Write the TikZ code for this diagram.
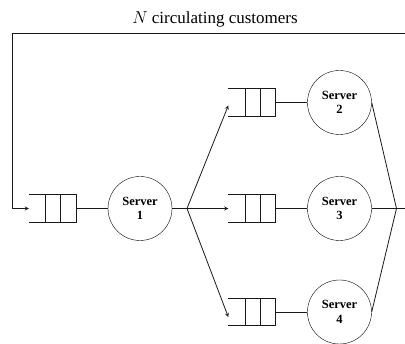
\documentclass[tikz,border=0pt]{standalone}
\usepackage{fontspec}
\setmainfont{Liberation Serif}
\usepackage{tikz}
\usetikzlibrary{arrows}
\tikzstyle{server} = [circle, minimum size=64pt, inner sep=0pt, align=center, draw=black, font=\fontsize{12.5}{14.5}\selectfont\bfseries]
\tikzstyle{queue} = [rectangle, minimum width=47pt, minimum height=27pt, inner sep=0pt]
\tikzstyle{line} = [line width=0.8pt, draw=black!90]
\tikzstyle{arrow} = [line, ->, >=stealth]

\begin{document}
\begin{tikzpicture}[node distance=87.5pt]
\useasboundingbox (0,0) rectangle (405pt,344pt);

\node (title) at (215pt,325pt) {\fontsize{17}{20}\selectfont $N$ circulating customers};

\node (q1) [queue] at (52.5pt,135.5pt) {};
\node (s1) [server, right of=q1] {Server\\1};
\node (split) [coordinate, node distance=47pt, right of=s1] {};
\node (q3) [queue, right of=s1, xshift=24.5pt] {};
\node (s3) [server, right of=q3] {Server\\3};
\node (q2) [queue, above of=q3, yshift=18.5pt] {};
\node (s2) [server, right of=q2] {Server\\2};
\node (q4) [queue, below of=q3, yshift=-16pt] {};
\node (s4) [server, right of=q4] {Server\\4};
\node (join) [coordinate, node distance=57pt, right of=s3] {};
\node (exit) [coordinate, node distance=8.5pt, right of=join] {};
\coordinate (back) at (405pt,311pt);
\coordinate (corner) at (12pt,311pt);

% queue buffers, open at the back
\foreach \q in {q1,q2,q3,q4} {
  \draw [line] (\q.north west) -- (\q.north east) -- (\q.south east) -- (\q.south west);
  \draw [line] ([xshift=17pt]\q.north west) -- ([xshift=17pt]\q.south west);
  \draw [line] ([xshift=32pt]\q.north west) -- ([xshift=32pt]\q.south west);
}

\draw [line] (q1) -- (s1);
\draw [line] (s1) -- (split);
\draw [arrow] (split) -- ([yshift=-3pt]q2.west);
\draw [arrow] (split) -- (q3.west);
\draw [arrow] (split) -- ([yshift=-5pt]q4.west);
\draw [line] (q2) -- (s2);
\draw [line] (q3) -- (s3);
\draw [line] (q4) -- (s4);
\draw [line] (s2.east) -- (join);
\draw [line] (s3) -- (exit);
\draw [line] (s4.east) -- (join);
\draw [arrow] (back) -- (corner) |- (q1.west);

\end{tikzpicture}
\end{document}
